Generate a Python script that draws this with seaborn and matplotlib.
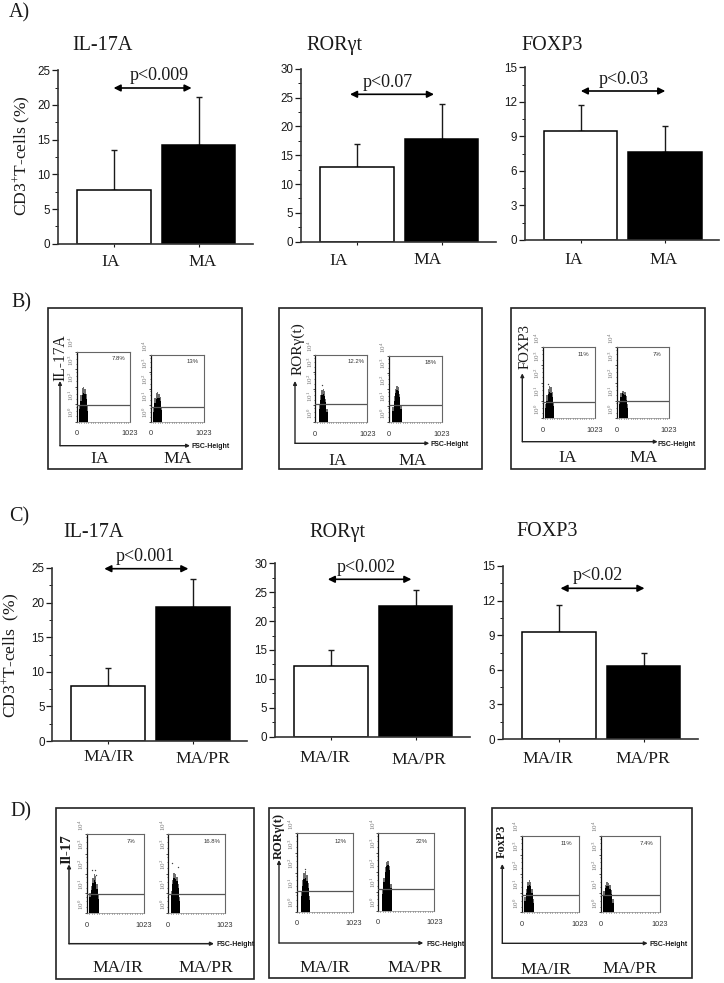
import numpy as np
import pandas as pd
import matplotlib
matplotlib.use("Agg")
import matplotlib.pyplot as plt
from matplotlib.patches import Rectangle
from matplotlib.transforms import Affine2D
from matplotlib import font_manager as fm
import seaborn as sns

# ---------- data ----------
groups_a = ["IA", "MA"]
groups_c = ["MA/IR", "MA/PR"]
markers = ["IL-17A", "RORγt", "FOXP3"]

a_il17_mean = [7.8, 14.3]
a_il17_top = [13.5, 21.2]
a_ror_mean = [12.9, 17.8]
a_ror_top = [17.0, 23.8]
a_fox_mean = [9.5, 7.6]
a_fox_top = [11.7, 9.9]

c_il17_mean = [8.0, 19.4]
c_il17_top = [10.6, 23.4]
c_ror_mean = [12.2, 22.6]
c_ror_top = [15.0, 25.4]
c_fox_mean = [9.3, 6.3]
c_fox_top = [11.6, 7.5]

p_a = ["p<0.009", "p<0.07", "p<0.03"]
p_c = ["p<0.001", "p<0.002", "p<0.02"]

# flow plots: FSC bins, and the height (in log10 decades) of the dense core and
# the sparser halo in each bin
fsc_bins = [60, 85, 110, 135, 160, 185, 210, 235]
b1l_core = [0.7, 1.2, 1.55, 1.64, 1.6, 1.3, 0.6, 0]
b1l_halo = [0.9, 1.5, 1.9, 2.0, 1.85, 1.6, 0.9, 0]
b1r_core = [0.6, 1.1, 1.38, 1.43, 1.4, 1.25, 0.7, 0]
b1r_halo = [0.8, 1.4, 1.7, 1.8, 1.65, 1.5, 0.9, 0]
b2l_core = [0, 0.8, 1.3, 1.62, 1.68, 1.55, 1.2, 0.6]
b2l_halo = [0, 1.0, 1.6, 1.9, 2.0, 1.85, 1.4, 0.8]
b2r_core = [0, 0.7, 1.3, 1.75, 1.95, 1.9, 1.5, 0.8]
b2r_halo = [0, 0.9, 1.6, 2.0, 2.2, 2.15, 1.7, 1.0]
b3l_core = [0.6, 1.0, 1.35, 1.48, 1.45, 1.2, 0.7, 0]
b3l_halo = [0.8, 1.3, 1.65, 1.8, 1.75, 1.5, 0.9, 0]
b3r_core = [0.8, 1.2, 1.4, 1.38, 1.3, 1.05, 0.6, 0]
b3r_halo = [1.0, 1.4, 1.55, 1.55, 1.5, 1.25, 0.8, 0]
d1l_core = [0.8, 1.2, 1.55, 1.68, 1.6, 1.25, 0.7, 0]
d1l_halo = [1.0, 1.4, 1.8, 2.0, 1.9, 1.5, 0.9, 0]
d1r_core = [0.9, 1.5, 1.78, 1.75, 1.65, 1.3, 0.6, 0]
d1r_halo = [1.1, 1.7, 2.05, 2.0, 1.85, 1.5, 0.8, 0]
d2l_core = [0, 0.8, 1.3, 1.65, 1.72, 1.55, 1.2, 0.6]
d2l_halo = [0, 1.0, 1.6, 1.95, 2.1, 1.85, 1.45, 0.8]
d2r_core = [0, 0.9, 1.5, 2.0, 2.3, 2.35, 2.1, 1.2]
d2r_halo = [0, 1.1, 1.7, 2.25, 2.5, 2.55, 2.3, 1.4]
d3l_core = [0.6, 1.0, 1.35, 1.43, 1.35, 1.0, 0.5, 0]
d3l_halo = [0.8, 1.2, 1.6, 1.7, 1.6, 1.2, 0.7, 0]
d3r_core = [0.9, 1.25, 1.38, 1.35, 1.2, 0.95, 0.5, 0]
d3r_halo = [1.1, 1.45, 1.6, 1.55, 1.4, 1.15, 0.7, 0]

# isolated events
d1l_out = ([89, 148, 160], [2.18, 2.18, 1.95])
d1r_out = ([66, 174], [2.54, 2.34])
d2l_out = ([150], [2.17])
b2l_out = ([131], [2.2])
b3l_out = ([110], [1.92])
none_out = ([], [])

gate_pct_b = ["7.8%", "13%", "12.2%", "18%", "11%", "7%"]
gate_pct_d = ["7%", "16.8%", "12%", "22%", "11%", "7.4%"]
gates_b = [0.95, 0.90, 1.07, 1.03, 0.94, 0.96]
gates_d = [0.96, 0.99, 1.06, 1.15, 0.90, 0.90]

# ---------- style ----------
sns.set_theme(style="ticks")
plt.rcParams["mathtext.default"] = "regular"
plt.rcParams["font.family"] = ["Liberation Serif", "DejaVu Serif"]
W, H = 724, 983
INK = "#1a1a1a"
have = {f.name for f in fm.fontManager.ttflist}
NARROW = "Liberation Sans Narrow" if "Liberation Sans Narrow" in have else "Liberation Sans"
NS = 1.0 if NARROW.endswith("Narrow") else 0.84

fig = plt.figure(figsize=(W / 100, H / 100), dpi=100, facecolor="white")


def px_axes(x0, y_top, x1, y_bot, **kw):
    return fig.add_axes([x0 / W, 1 - y_bot / H, (x1 - x0) / W, (y_bot - y_top) / H], **kw)


overlay = px_axes(0, 0, W, H, zorder=10)
overlay.set_xlim(0, W)
overlay.set_ylim(H, 0)
overlay.axis("off")
overlay.patch.set_alpha(0)


def label(x, y, s, size=12.6, rotation=0, **kw):
    overlay.text(x, y, s, fontsize=size, rotation=rotation, ha="center", va="center",
                 color=INK, **kw)


def bar_panel(rect, cats, means, tops, ymax, step, label_xy):
    x0, yt, x1, yb = rect
    ax = px_axes(x0, yt, x1, yb)
    df = pd.DataFrame({"group": cats, "value": means})
    sns.barplot(data=df, x="group", y="value", hue="group", palette=["white", "black"],
                width=0.867, dodge=False, legend=False, edgecolor="black", linewidth=1.1,
                saturation=1, ax=ax, zorder=2)
    err = np.array(tops) - np.array(means)
    ax.errorbar([0, 1], means, yerr=[np.zeros(2), err], fmt="none", ecolor=INK,
                elinewidth=1.0, capsize=2, capthick=1.0, zorder=1)
    ax.set_xlim(-0.66, 1.64)
    ax.set_ylim(0, ymax)
    ax.set_xlabel("")
    ax.set_ylabel("")
    ax.set_yticks(np.arange(0, ymax + 1e-6, step))
    ax.set_yticks(np.arange(step / 2, ymax, step), minor=True)
    ax.tick_params(axis="y", which="major", length=4, width=0.9, pad=1.5, colors=INK)
    ax.tick_params(axis="y", which="minor", length=2.5, width=0.7, colors=INK)
    ax.tick_params(axis="x", length=2, width=0.8, pad=0, colors=INK)
    for t in ax.get_yticklabels():
        t.set_fontfamily(NARROW)
        t.set_fontsize(10 * NS)
    for s in ("top", "right"):
        ax.spines[s].set_visible(False)
    for s in ("left", "bottom"):
        ax.spines[s].set_linewidth(1.2)
        ax.spines[s].set_color("#333333")
    ax.patch.set_alpha(0)
    # tick labels: same ticks, shifted to where the reference prints them
    for i, (t, (lx, ly)) in enumerate(zip(ax.get_xticklabels(), label_xy)):
        dx = lx - (x0 + (i + 0.66) / 2.30 * (x1 - x0))
        dy = -(ly - yb - 2 * 100 / 72)
        t.set_va("center")
        t.set_fontsize(12.6)
        t.set_transform(t.get_transform() + Affine2D().translate(dx, dy))
    return ax


def arrow(x0, x1, y):
    overlay.annotate("", xy=(x1, y), xytext=(x0, y),
                     arrowprops=dict(arrowstyle="<|-|>", color="black", lw=1.2,
                                     mutation_scale=10, shrinkA=0, shrinkB=0))


def mini(rect, core, halo, out, gate, pct):
    x0, yt, x1, yb = rect
    ax = px_axes(x0, yt, x1, yb)
    ax.bar(fsc_bins, halo, width=26, color="#6e6e6e", edgecolor="none", linewidth=0, zorder=1)
    ax.bar(fsc_bins, core, width=26, color="black", edgecolor="none", linewidth=0, zorder=2)
    if out[0]:
        ax.plot(out[0], out[1], ls="none", marker="o", ms=1.0, mew=0, color="#444444", zorder=2)
    ax.axhline(gate, color="#555555", lw=0.9, zorder=3)
    ax.set_xlim(0, 1023)
    ax.set_ylim(0, 4)
    ax.set_xticks([0, 1023], ["0", "1023"])
    ax.set_xticks(np.arange(0, 1023, 45), minor=True)
    ax.set_yticks(range(5), [f"$10^{{{k}}}$" for k in range(5)])
    ax.set_yticks([k + np.log10(m) for k in range(4) for m in (2, 4, 7)], minor=True)
    ax.tick_params(axis="y", which="major", length=1.5, width=0.6, pad=0.5, labelsize=5.0,
                   labelrotation=90, colors="#333333", labelcolor="#707070")
    ax.tick_params(axis="y", which="minor", length=1, width=0.5, colors="#333333")
    ax.tick_params(axis="x", which="major", length=0, pad=6, colors=INK)
    ax.tick_params(axis="x", which="minor", length=1, width=0.5, colors="#333333")
    for t in ax.get_xticklabels():
        t.set_fontfamily(NARROW)
        t.set_fontsize(6.3 * NS)
        t.set_color("#333333")
    for t in ax.get_yticklabels():
        t.set_va("center")
        t.set_transform(t.get_transform() + Affine2D().translate(2.5, 9))
    for s, c, lw in (("top", "#666666", 0.8), ("right", "#666666", 0.8),
                     ("left", "#111111", 0.9), ("bottom", "#888888", 0.5)):
        ax.spines[s].set_color(c)
        ax.spines[s].set_linewidth(lw)
    ax.text(0.78, 0.9, pct, transform=ax.transAxes, fontsize=4.3, ha="center", va="center",
            family="Liberation Sans", color="#333333")
    ax.patch.set_alpha(0)
    return ax


def flow_frame(frame, ax_x, ax_y, ax_top, ax_right, fsc_x, fsc_y, thick=1.0):
    x0, yt, x1, yb = frame
    overlay.add_patch(Rectangle((x0, yt), x1 - x0, yb - yt, fill=False, ec="#222222", lw=1.2))
    arrow_kw = dict(arrowstyle="-|>", color="#222222", lw=thick, mutation_scale=5,
                    shrinkA=0, shrinkB=0)
    overlay.annotate("", xy=(ax_x, ax_top), xytext=(ax_x, ax_y), arrowprops=arrow_kw)
    overlay.annotate("", xy=(ax_right, ax_y), xytext=(ax_x, ax_y), arrowprops=arrow_kw)
    overlay.text(fsc_x, fsc_y, "FSC-Height", fontsize=5.0 * NS / 0.84, family=NARROW, weight="bold",
                 ha="center", va="center", color=INK)


# ---------- panel A ----------
label(19, 13, "A)", 14.5)
a_rects = [(57.7, 70.3, 253, 243.7), (301, 68.7, 496, 241.7), (525, 67.3, 719, 240)]
a_means = [a_il17_mean, a_ror_mean, a_fox_mean]
a_tops = [a_il17_top, a_ror_top, a_fox_top]
a_max = [(25, 5), (30, 5), (15, 3)]
a_labels = [[(110.8, 262.3), (203, 262.3)], [(338.4, 261), (428, 260)], [(573.9, 259.5), (664, 259.5)]]
for r, m, t, (ym, st), xy in zip(a_rects, a_means, a_tops, a_max, a_labels):
    bar_panel(r, groups_a, m, t, ym, st, xy)
for x, s in zip([102.3, 334.7, 551.7], markers):
    label(x, 45.7, s, 14.5)
label(22, 155.5, "CD3$^{+}$T-cells (%)", 12.6, rotation=90)
for (x, y), s in zip([(158.8, 76), (388, 82.3), (623.7, 79.3)], p_a):
    label(x, y, s, 13)
for x0, x1, y in [(113.6, 191.6, 88), (350, 434, 94.3), (580.8, 665.3, 91)]:
    arrow(x0, x1, y)

# ---------- panel B ----------
label(21, 303, "B)", 14.5)
flow_frame((48.3, 307.7, 242.3, 469), 60, 445.7, 381, 190, 210.5, 447)
flow_frame((279, 307.7, 481.7, 469), 295, 443.3, 381, 429.3, 449.5, 444.5)
flow_frame((511.3, 307.7, 705.3, 468.7), 522.3, 441.7, 373.3, 657.7, 676.5, 444)
b_rects = [(76.7, 351.7, 130, 421.7), (150.7, 355.3, 204, 421.7),
           (315, 355, 367.3, 422.3), (388.7, 356, 442, 422.3),
           (542.7, 347.3, 595, 418.3), (616.7, 347.3, 669, 418.3)]
b_core = [b1l_core, b1r_core, b2l_core, b2r_core, b3l_core, b3r_core]
b_halo = [b1l_halo, b1r_halo, b2l_halo, b2r_halo, b3l_halo, b3r_halo]
b_out = [none_out, none_out, b2l_out, none_out, b3l_out, none_out]
for r, c, h, o, g, p in zip(b_rects, b_core, b_halo, b_out, gates_b, gate_pct_b):
    mini(r, c, h, o, g, p)
for x, y, s in [(99.3, 459, "IA"), (178, 459, "MA"), (338, 460.7, "IA"), (412.7, 460.7, "MA"),
                (567.3, 458.3, "IA"), (643.3, 458.3, "MA")]:
    label(x, y, s)
label(60, 358, "IL-17A", 11.2, rotation=90)
label(298, 349, "RORγ(t)", 11, rotation=90)
label(525, 346.7, "FOXP3", 10.6, rotation=90)

# ---------- panel C ----------
label(19, 517, "C)", 14.5)
c_rects = [(52.2, 568, 247, 741), (275, 563.3, 470, 736.7), (503, 566, 698, 739)]
c_means = [c_il17_mean, c_ror_mean, c_fox_mean]
c_tops = [c_il17_top, c_ror_top, c_fox_top]
c_labels = [[(108.5, 756.7), (203, 759)], [(324.6, 758.3), (419, 760)], [(548, 759), (643, 758.7)]]
for r, m, t, (ym, st), xy in zip(c_rects, c_means, c_tops, a_max, c_labels):
    bar_panel(r, groups_c, m, t, ym, st, xy)
for (x, y), s in zip([(93.7, 532.3), (337.7, 532.3), (546.9, 532)], markers):
    label(x, y, s, 14.5)
label(11.5, 655, "CD3$^{+}$T-cells  (%)", 12.6, rotation=90)
for (x, y), s in zip([(145, 556.7), (366, 567.3), (597.5, 576)], p_c):
    label(x, y, s, 13)
for x0, x1, y in [(104.3, 188.4, 568.7), (327.8, 411.4, 579.3), (560.5, 644.5, 588.3)]:
    arrow(x0, x1, y)

# ---------- panel D ----------
label(21, 812, "D)", 14.5)
flow_frame((56.3, 808.3, 254, 979), 69, 943.7, 864.3, 214, 235.5, 945, 1.1)
flow_frame((269, 808.3, 465.3, 977.7), 279, 943, 860, 423.3, 445.5, 945)
flow_frame((491.7, 808.3, 692.3, 978.3), 502.3, 943.3, 864, 647.7, 669, 945)
d_rects = [(86.7, 834, 144, 913.3), (168, 834, 225, 913.3),
           (296.7, 833.3, 353.3, 911.7), (378, 833.3, 434.3, 911),
           (521.7, 835.7, 579.3, 912.3), (600.7, 835.7, 660, 912.3)]
d_core = [d1l_core, d1r_core, d2l_core, d2r_core, d3l_core, d3r_core]
d_halo = [d1l_halo, d1r_halo, d2l_halo, d2r_halo, d3l_halo, d3r_halo]
d_out = [d1l_out, d1r_out, d2l_out, none_out, none_out, none_out]
for r, c, h, o, g, p in zip(d_rects, d_core, d_halo, d_out, gates_d, gate_pct_d):
    mini(r, c, h, o, g, p)
for x, y, s in [(118.3, 967.7, "MA/IR"), (206, 967.7, "MA/PR"), (325, 968, "MA/IR"),
                (415, 968, "MA/PR"), (545.7, 970, "MA/IR"), (630, 969, "MA/PR")]:
    label(x, y, s)
label(66.7, 849, "Il-17", 10.8, rotation=90, weight="bold")
label(278.3, 835.7, "RORγ(t)", 9, rotation=90, weight="bold")
label(501.7, 841, "FoxP3", 8.8, rotation=90, weight="bold")

fig.savefig("out.png", dpi=100)
